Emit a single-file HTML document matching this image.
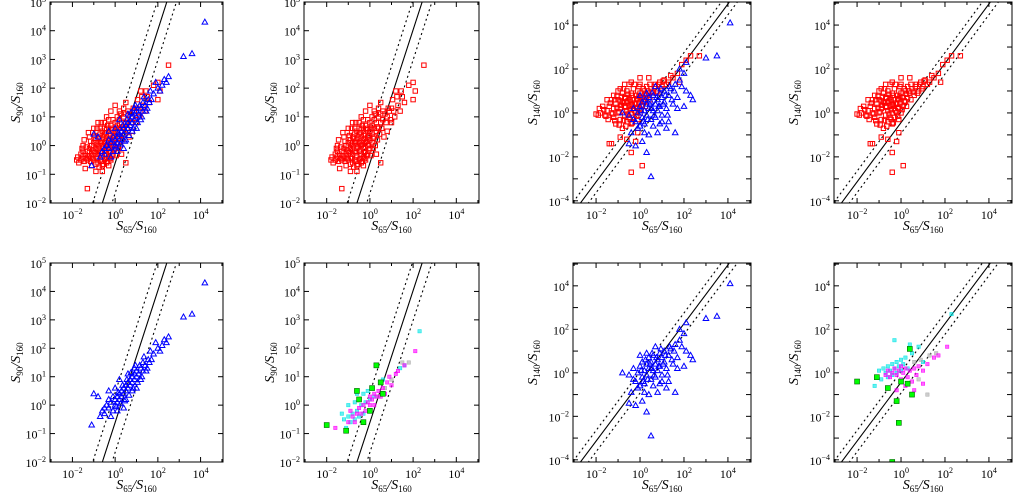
<!DOCTYPE html>
<html><head><meta charset="utf-8"><style>
html,body{margin:0;padding:0;background:#fff;overflow:hidden;}
svg{display:block;font-family:"Liberation Serif",serif;}
</style></head><body>
<svg id="fig" width="1013" height="497" viewBox="0 0 1013 497" xmlns="http://www.w3.org/2000/svg"></svg>
<script>
// ---- data: [log10(S65/S160), log10(Sy/S160)] ----
const red90 = [[-1.6,-0.5],[-1.5,-0.4],[-1.4,-0.3],[-1.5,-0.2],[-1.3,-0.5],[-1.2,-0.4],[-1.3,-0.2],[-1.2,-0.1],[-1.1,-0.3],[-1.1,0],[-1.0,-0.5],[-1.0,-0.2],[-1.0,0.1],[-0.9,-0.4],[-0.9,-0.1],[-0.9,0.2],[-0.8,-0.6],[-0.8,-0.3],[-0.8,0],[-0.8,0.3],[-0.7,-0.5],[-0.7,-0.2],[-0.7,0.1],[-0.7,0.4],[-0.6,-0.7],[-0.6,-0.4],[-0.6,-0.1],[-0.6,0.2],[-0.6,0.5],[-0.5,-0.5],[-0.5,-0.2],[-0.5,0.1],[-0.5,0.4],[-0.4,-0.6],[-0.4,-0.3],[-0.4,0],[-0.4,0.3],[-0.4,0.6],[-0.3,-0.4],[-0.3,-0.1],[-0.3,0.2],[-0.3,0.5],[-0.2,-0.5],[-0.2,-0.2],[-0.2,0.1],[-0.2,0.4],[-0.2,0.7],[-0.1,-0.3],[-0.1,0],[-0.1,0.3],[-0.1,0.6],[0,-0.1],[0,0.2],[0,0.5],[0,0.8],[0.1,0.1],[0.1,0.4],[0.1,0.7],[0.2,0.3],[0.2,0.6],[0.2,0.9],[0.3,0.5],[0.3,0.8],[0.4,0.6],[0.4,1.0],[0.5,0.8],[0.5,1.1],[0.6,0.9],[0.7,1.1],[0.8,1.0],[0.9,1.2],[1.0,1.3],[1.1,1.2],[1.3,1.4],[1.5,1.7],[1.8,2.1],[2.0,2.2],[2.1,1.9],[2.0,1.6],[2.5,2.8],[1.2,1.9],[0.5,1.5],[-0.8,0.8],[-1.0,0.6],[-1.7,-0.6],[-1.4,-0.8],[-1.1,-0.7],[-0.9,-0.9],[-1.3,-1.5],[-0.3,-0.7],[0.3,-0.3],[0.5,-0.6],[-1.5,0],[-1.2,0.3],[0.8,0.5],[1.0,0.8],[-0.5,0.8],[0.2,1.2],[-0.6,-0.9],[-1.6,-0.3],[-1.25,-0.35],[-1.05,-0.15],[-0.85,-0.45],[-0.85,0.05],[-0.65,-0.25],[-0.65,0.15],[-0.45,-0.45],[-0.45,0.05],[-0.45,0.45],[-0.25,-0.25],[-0.25,0.25],[-0.05,-0.15],[-0.05,0.35],[0.15,0.25],[0.35,0.65],[-0.75,-0.05],[-0.55,-0.05],[-0.35,0.05],[-0.15,0.15],[-0.95,-0.25],
[-1.45,-0.55],[-1.35,-0.45],[-1.35,-0.05],[-1.15,-0.55],[-1.15,0.15],[-1.05,-0.45],[-0.95,0.35],[-0.9,-0.65],[-0.75,-0.75],[-0.75,0.25],[-0.7,0.6],[-0.65,-0.55],[-0.55,-0.65],[-0.55,0.3],[-0.5,0.6],[-0.45,-0.15],[-0.35,-0.55],[-0.35,0.7],[-0.3,0.9],[-0.25,-0.45],[-0.15,-0.35],[-0.15,0.55],[-0.1,0.9],[-0.05,0.05],[0.05,-0.35],[0.05,0.6],[0.1,1.0],[0.15,-0.1],[0.25,0.0],[0.25,1.1],[0.35,0.2],[0.4,1.3],[0.45,0.4],[0.55,0.6],[0.6,1.2],[0.65,0.3],[0.75,0.8],[0.85,1.3],[0.95,0.9],[1.05,1.6],[1.15,1.0],[1.25,1.7],[1.4,1.2],[1.45,1.9],[1.6,1.5],[-1.55,-0.1],[-1.75,-0.4],[-1.8,-0.5],[-1.45,0.2],[-1.25,0.45],[-1.05,0.45],[-0.85,0.6],[-0.65,0.8],[-0.4,1.0],[-0.2,1.2],[0.0,1.4]];
const blue90 = [[-0.7,-0.4],[-0.6,-0.2],[-0.5,-0.3],[-0.4,0],[-0.3,-0.1],[-0.2,0.1],[-0.1,-0.2],[0,0],[0,0.2],[0.1,0.3],[0.1,0.1],[0.2,0.4],[0.2,0.2],[0.3,0.5],[0.3,0.3],[0.4,0.6],[0.4,0.4],[0.5,0.7],[0.5,0.5],[0.6,0.8],[0.6,0.6],[0.7,0.9],[0.7,0.7],[0.8,1.0],[0.8,0.8],[0.9,1.1],[0.9,0.9],[1.0,1.2],[1.0,1.0],[1.1,1.1],[1.2,1.3],[1.3,1.2],[1.4,1.4],[1.5,1.3],[1.6,1.5],[1.7,1.6],[1.8,1.8],[2.0,2.0],[2.1,1.9],[2.3,2.3],[2.4,2.2],[2.2,2.1],[3.2,3.1],[3.6,3.2],[4.2,4.3],[-1.0,0.4],[-0.8,0.3],[-1.1,-0.7],[0.2,0.9],[0.5,0.2],[0.8,0.5],[1.2,0.9],[0.4,-0.1],[1.0,0.6],[0.6,1.1],[0.9,1.3],[1.3,1.5],[0.1,-0.2],[-0.2,-0.4],
[-0.5,-0.1],[-0.3,0.2],[-0.1,0.3],[0.05,-0.05],[0.15,0.45],[0.25,0.05],[0.35,0.7],[0.45,0.15],[0.55,0.9],[0.65,0.35],[0.75,1.15],[0.85,0.6],[0.95,1.4],[1.05,0.8],[1.15,1.4],[1.25,1.0],[1.35,1.7],[1.45,1.2],[1.55,1.6],[1.65,1.9],[-0.3,0.5],[0.0,0.6],[1.9,2.2],[2.5,2.4]];
const red140 = [[-1.9,-0.1],[-1.8,0],[-1.6,-0.1],[-1.5,0.1],[-1.4,0.3],[-1.3,0],[-1.2,-0.2],[-1.2,0.2],[-1.1,0.4],[-1.0,0],[-1.0,0.6],[-0.9,-0.3],[-0.9,0.2],[-0.8,0.5],[-0.8,0.9],[-0.7,-0.1],[-0.7,0.3],[-0.7,0.7],[-0.6,-0.4],[-0.6,0.1],[-0.6,0.5],[-0.6,1.0],[-0.5,-0.2],[-0.5,0.3],[-0.5,0.7],[-0.4,-0.5],[-0.4,0],[-0.4,0.4],[-0.4,0.9],[-0.3,-0.2],[-0.3,0.2],[-0.3,0.6],[-0.3,1.1],[-0.2,0],[-0.2,0.4],[-0.2,0.8],[-0.1,-0.3],[-0.1,0.2],[-0.1,0.6],[-0.1,1.0],[0,0],[0,0.5],[0,0.9],[0,1.3],[0.1,0.3],[0.1,0.7],[0.2,0.5],[0.2,1.0],[0.3,0.7],[0.3,1.2],[0.4,0.9],[0.5,1.1],[0.6,0.8],[0.7,1.3],[0.8,1.0],[0.9,1.4],[1.0,1.2],[1.1,1.5],[1.3,1.4],[1.5,1.6],[1.7,1.8],[1.9,2.2],[2.1,2.4],[2.3,2.6],[2.7,2.6],[1.8,1.4],[-1.4,-1.4],[-1.3,-1.4],[-0.9,-1.1],[-0.6,-1.2],[-0.4,-1.8],[-0.4,-2.7],[-0.2,-1.3],[0.1,-2.4],[-0.1,-0.9],[-1.7,0.3],[-1.5,0.6],[-1.2,0.8],[-0.9,1.1],[-0.5,1.3],[-1.1,-0.5],[-0.8,-0.7],[-0.85,0.35],[-0.65,0.25],[-0.45,0.15],[-0.25,0.45],[-0.55,0.55],[-0.35,0.35],[-0.15,0.25],[-0.75,0.45],[-0.95,0.05],[-0.05,0.75],[0.15,0.55],[-1.05,0.25],
[-1.65,0.15],[-1.55,-0.15],[-1.35,0.45],[-1.25,-0.05],[-1.15,0.6],[-1.15,-0.35],[-1.05,0.75],[-0.95,-0.55],[-0.9,0.5],[-0.85,0.75],[-0.75,-0.35],[-0.75,1.1],[-0.65,-0.6],[-0.65,0.65],[-0.55,-0.05],[-0.55,0.85],[-0.45,0.6],[-0.45,-0.3],[-0.35,-0.45],[-0.35,0.8],[-0.25,0.1],[-0.25,1.3],[-0.15,-0.15],[-0.15,0.65],[-0.05,0.4],[-0.05,1.2],[0.05,0.15],[0.05,0.7],[0.15,1.1],[0.25,0.3],[0.25,0.85],[0.35,1.0],[0.45,0.6],[0.45,1.3],[0.55,0.95],[0.65,1.2],[0.75,0.9],[0.85,1.3],[0.95,1.1],[1.05,1.45],[1.2,1.3],[1.4,1.7],[-1.45,-0.3],[-1.3,0.6],[-1.0,1.0],[-0.7,1.3],[-0.4,1.4],[0.0,1.6],[0.4,1.6],[-1.85,0.2],[-2.0,-0.05]];
const blue140 = [[-0.5,-0.1],[-0.3,0.2],[-0.2,-0.4],[-0.1,0],[0,-0.6],[0,0.3],[0.1,-0.2],[0.1,0.5],[0.2,0.1],[0.2,-0.5],[0.3,0.4],[0.3,-0.1],[0.4,0.7],[0.4,0.2],[0.5,-0.3],[0.5,0.5],[0.6,0.1],[0.6,0.8],[0.7,0.4],[0.7,-0.2],[0.8,0.6],[0.8,0.1],[0.9,0.9],[0.9,0.3],[1.0,0.7],[1.0,-0.1],[1.1,0.5],[1.1,1.0],[1.2,0.2],[1.3,0.8],[1.4,1.1],[1.5,0.4],[1.6,1.3],[1.7,0.7],[1.8,1.5],[2.0,1.8],[2.0,0.3],[2.1,1.0],[2.3,0.8],[2.4,0.6],[1.8,2.0],[2.1,2.3],[3.0,2.5],[3.5,2.6],[4.1,4.1],[1.6,-0.9],[1.2,-0.7],[0.8,-0.9],[0.4,-1.0],[0.5,-2.9],[0.1,-1.3],[-0.2,-1.5],[-0.5,-1.4],[-0.8,0.0],[0.3,-1.8],[0.6,-0.6],[1.3,-0.4],[0.0,0.8],[-0.4,-0.9],
[0.05,0.1],[0.15,-0.4],[0.25,0.6],[0.35,-0.3],[0.45,0.4],[0.55,0.9],[0.65,-0.1],[0.75,0.7],[0.85,0.3],[0.95,1.1],[1.05,0.4],[1.15,0.8],[1.25,-0.1],[1.35,1.2],[1.45,0.6],[1.55,1.0],[0.3,0.9],[0.7,1.2],[1.0,-0.4],[0.5,0.2],[-0.1,-0.7],[0.2,-0.9],[0.9,-0.5],[-0.3,-0.3],[1.9,1.2],[1.7,0.2]];
const cyan90 = [[-1.3,-0.3],[-1.2,-0.5],[-1.0,-0.4],[-1.0,0],[-0.9,-0.6],[-0.8,-0.3],[-0.7,0.1],[-0.7,-0.5],[-0.6,-0.2],[-0.5,0.2],[-0.5,-0.4],[-0.4,0],[-0.3,0.4],[-0.3,-0.3],[-0.2,0.1],[-0.1,0.5],[0,0.2],[0.1,0.6],[0.2,0.3],[0.5,0.8],[0.6,0.9],[1.4,1.3],[1.6,1.4],[2.3,2.6],[-1.1,-0.8],[-0.6,0.4]];
const magenta90 = [[-1.6,-0.8],[-1.0,-0.6],[-0.8,-0.4],[-0.6,-0.3],[-0.5,-0.1],[-0.4,-0.3],[-0.3,0],[-0.2,-0.2],[-0.1,0.1],[0,0],[0,0.3],[0.1,0.2],[0.2,0.4],[0.2,0],[0.3,0.3],[0.4,0.5],[0.5,0.3],[0.6,0.6],[0.7,0.4],[0.8,0.8],[0.9,1.0],[1.0,0.7],[1.2,1.1],[1.3,1.2],[1.6,1.4],[2.1,1.9],[-0.7,-0.6],[-0.9,-0.2]];
const green90 = [[-2.0,-0.7],[-1.1,-0.9],[-0.6,0.5],[-0.3,-0.6],[0.3,1.4],[0.5,0.8],[0.6,0.4],[-0.5,0.2],[0,-0.2],[0.1,0.6]];
const grey90 = [[1.0,0.9],[1.5,1.5],[1.8,1.5],[0.7,0.6],[0.4,0.3]];
const cyan140 = [[-1.0,0.1],[-0.9,-0.3],[-0.8,0.2],[-0.7,0],[-0.6,0.3],[-0.6,-0.2],[-0.5,0.1],[-0.4,0.4],[-0.4,-0.1],[-0.3,0.2],[-0.2,0.5],[-0.2,0],[-0.1,0.3],[0,0.6],[0,0.1],[0.1,0.4],[0.2,0.7],[0.3,0.2],[0.5,0.9],[0.8,1.2],[1.0,0.5],[-0.3,1.5],[0.4,1.3],[2.3,2.7],[-1.2,-0.6]];
const magenta140 = [[-0.7,-0.1],[-0.6,0.1],[-0.5,-0.2],[-0.4,0],[-0.3,0.2],[-0.2,-0.1],[-0.1,0.1],[0,-0.3],[0,0.3],[0.1,0],[0.2,0.2],[0.3,-0.2],[0.4,0.1],[0.5,-0.4],[0.6,0.2],[0.7,-0.1],[0.8,0.3],[1.0,0.1],[1.2,0.4],[1.5,0.7],[1.7,0.8],[2.1,1.2],[-0.2,-0.8],[0.2,-0.6],[0.6,-0.8],[1.0,-0.5]];
const green140 = [[-2.0,-0.4],[-1.1,-0.2],[-0.2,-1.3],[0,-0.4],[0.4,1.1],[0.5,-1.0],[-0.1,-2.3],[-0.4,-4.1],[0.3,-0.5],[-0.6,-0.7]];
const grey140 = [[0.6,0.5],[0.9,0.6],[1.3,0.8],[1.6,0.9],[1.2,-1.0],[0.8,-0.3]];
const xTickLabels = [-2,0,2,4];
const yTickLabels90 = [-2,-1,0,1,2,3,4,5];
const yTickLabels140 = [-4,-2,0,2,4];
const rel90 = {slope:2.32, intercept:-0.61, off:1.05};
const rel140 = {slope:1.35, intercept:-0.44, off:0.49};

const NS="http://www.w3.org/2000/svg";
const svg=document.getElementById('fig');
function mk(tag,attrs,parent){const e=document.createElementNS(NS,tag);for(const k in attrs)e.setAttribute(k,attrs[k]);(parent||svg).appendChild(e);return e;}

const colsX=[[50,223],[304,479],[573,751],[834,1012]];
const rowsY=[[2,203],[263,462]];
const XMIN=-3.05,XMAX=5.05;

function panel(idx,col,row,kind,series){
  const [x0,x1]=colsX[col],[y0,y1]=rowsY[row];
  const ymin=kind===90?-2:-4.1, ymax=kind===90?5:5.05;
  const sx=v=>x0+(v-XMIN)/(XMAX-XMIN)*(x1-x0);
  const sy=v=>y1-(v-ymin)/(ymax-ymin)*(y1-y0);
  const g=mk('g',{});
  
  
  const cp='clip'+idx;
  const c=mk('clipPath',{id:cp},g);mk('rect',{x:x0,y:y0,width:x1-x0,height:y1-y0},c);
  const rel=kind===90?rel90:rel140;
  const lg=mk('g',{'clip-path':'url(#'+cp+')'},g);
  [[0,'none','relation-line'],[rel.off,'2,3','upper-dotted-line'],[-rel.off,'2,3','lower-dotted-line']].forEach(([o,d,n])=>{
    const f=v=>rel.slope*v+rel.intercept+o;
    const ln=mk('line',{x1:sx(XMIN),y1:sy(f(XMIN)),x2:sx(XMAX),y2:sy(f(XMAX)),stroke:'#000','stroke-width':1.1,'stroke-dasharray':d},lg);
    
    
  });
  const pg=mk('g',{'clip-path':'url(#'+cp+')'},g);
  series.forEach(s=>{
    s.data.forEach(p=>{
      const X=sx(p[0]),Y=sy(p[1]);let m;
      if(s.shape==='sq') m=mk('rect',{x:X-2.2,y:Y-2.2,width:4.4,height:4.4,fill:'none',stroke:s.color,'stroke-width':1},pg);
      else if(s.shape==='tri') m=mk('path',{d:`M${X},${Y-3}L${X+2.8},${Y+2}L${X-2.8},${Y+2}Z`,fill:'none',stroke:s.color,'stroke-width':1},pg);
      else if(s.shape==='fsq') m=mk('rect',{x:X-2.5,y:Y-2.5,width:5,height:5,fill:s.color,stroke:'#060','stroke-width':0.6},pg);
      else m=mk('rect',{x:X-1.7,y:Y-1.7,width:3.4,height:3.4,fill:s.color,stroke:s.color,'stroke-width':0.5,'fill-opacity':0.6},pg);
      
      
    });
  });
  const fr=mk('rect',{x:x0,y:y0,width:x1-x0,height:y1-y0,fill:'none',stroke:'#000','stroke-width':1},g);
  
  
  for(let d=-3;d<=5;d++){const X=sx(d);const L=(d%2===0)?5:3;
    mk('line',{x1:X,y1:y1,x2:X,y2:y1-L,stroke:'#000'},g);mk('line',{x1:X,y1:y0,x2:X,y2:y0+L,stroke:'#000'},g);}
  xTickLabels.forEach(d=>{const t=mk('text',{x:sx(d),y:y1+16,'text-anchor':'middle','font-size':12},g);
    
    t.innerHTML='10<tspan dy="-5" font-size="8">'+(d<0?'−'+(-d):d)+'</tspan>';});
  for(let d=Math.ceil(ymin);d<=Math.floor(ymax);d++){const Y=sy(d);
    mk('line',{x1:x0,y1:Y,x2:x0+5,y2:Y,stroke:'#000'},g);mk('line',{x1:x1,y1:Y,x2:x1-5,y2:Y,stroke:'#000'},g);}
  (kind===90?yTickLabels90:yTickLabels140).forEach(d=>{const t=mk('text',{x:x0-4,y:sy(d)+5,'text-anchor':'end','font-size':12},g);
    
    t.innerHTML='10<tspan dy="-5" font-size="8">'+(d<0?'−'+(-d):d)+'</tspan>';});
  const xt=mk('text',{x:(x0+x1)/2,y:y1+27,'text-anchor':'middle','font-size':14,'font-style':'italic'},g);
  
  xt.innerHTML='S<tspan dy="3" font-size="9" font-style="normal">65</tspan><tspan dy="-3">/S</tspan><tspan dy="3" font-size="9" font-style="normal">160</tspan>';
  const yx=x0-(kind===90?30:36), yy=(y0+y1)/2;
  const yt=mk('text',{x:yx,y:yy,'text-anchor':'middle','font-size':14,'font-style':'italic',transform:`rotate(-90 ${yx} ${yy})`},g);
  
  yt.innerHTML='S<tspan dy="3" font-size="9" font-style="normal">'+kind+'</tspan><tspan dy="-3">/S</tspan><tspan dy="3" font-size="9" font-style="normal">160</tspan>';
}
const R='#ff0000',B='#0000ff';
panel(1,0,0,90,[{data:red90,color:R,shape:'sq',name:'red'},{data:blue90,color:B,shape:'tri',name:'blue'}]);
panel(2,1,0,90,[{data:red90,color:R,shape:'sq',name:'red'}]);
panel(3,2,0,140,[{data:red140,color:R,shape:'sq',name:'red'},{data:blue140,color:B,shape:'tri',name:'blue'}]);
panel(4,3,0,140,[{data:red140,color:R,shape:'sq',name:'red'}]);
panel(5,0,1,90,[{data:blue90,color:B,shape:'tri',name:'blue'}]);
panel(6,1,1,90,[{data:cyan90,color:'#00e5e5',shape:'s',name:'cyan'},{data:grey90,color:'#aaaaaa',shape:'s',name:'grey'},{data:magenta90,color:'#ff00ff',shape:'s',name:'magenta'},{data:green90,color:'#00ff00',shape:'fsq',name:'green'}]);
panel(7,2,1,140,[{data:blue140,color:B,shape:'tri',name:'blue'}]);
panel(8,3,1,140,[{data:cyan140,color:'#00e5e5',shape:'s',name:'cyan'},{data:grey140,color:'#aaaaaa',shape:'s',name:'grey'},{data:magenta140,color:'#ff00ff',shape:'s',name:'magenta'},{data:green140,color:'#00ff00',shape:'fsq',name:'green'}]);
</script>
</body></html>
